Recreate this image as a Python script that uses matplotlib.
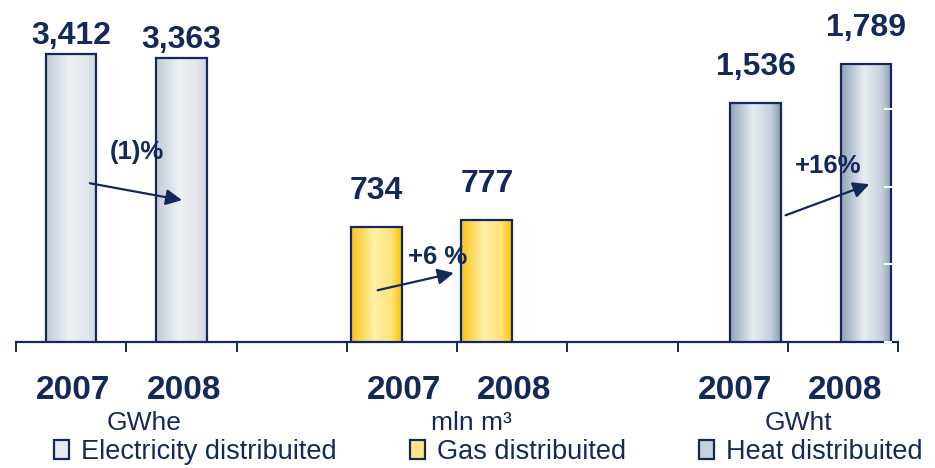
import numpy as np
import matplotlib.pyplot as plt
from matplotlib.patches import Patch
from matplotlib.colors import LinearSegmentedColormap

# data
years = ["2007", "2008"]
units = ["GWhe", "mln m³", "GWht"]
series = ["Electricity distribuited", "Gas distribuited", "Heat distribuited"]
electricity = [3412, 3363]
gas = [734, 777]
heat = [1536, 1789]
changes = ["(1)%", "+6 %", "+16%"]

plt.rcParams['font.family'] = ['Liberation Sans', 'DejaVu Sans']
NAVY = '#13295a'

# gradient colours (left edge -> highlight -> right edge)
grads = [
    ['#c3cbd7', '#edf0f4', '#e3e8ee', '#cdd4de'],
    ['#f9c21a', '#fff1a8', '#ffe27a', '#fbc200'],
    ['#92a3b9', '#e8ecf1', '#c6d0dc', '#879ab0'],
]
mids = ['#e6eaf0', '#ffe583', '#c7d1dc']

fig = plt.figure(figsize=(9.35, 4.68), dpi=100)
ax_e = fig.add_axes([16/935, 126/468, 882/935, 342/468])
ax_g = ax_e.twinx()
ax_h = ax_e.twinx()
axes = [ax_e, ax_g, ax_h]
ylims = [4050, 2180, 2200]
values = [electricity, gas, heat]
bar_x = [0.50, 3.27, 6.71]       # first bar centre of each group
label_off = [13, 26, 26]         # value label offset above bar (pt)

# arrows: (start x, start y) -> (end x, end y) in group data coords, text pos
arrows = [((0.67, 1880), (1.505, 1680), (1.10, 2250)),
          ((3.28, 330), (3.97, 440), (3.82, 545)),
          ((6.98, 815), (7.74, 1015), (7.37, 1135))]

for i, ax in enumerate(axes):
    ax.set_xlim(0, 8)
    ax.set_ylim(0, ylims[i])
    ax.patch.set_visible(False)
    for s in ax.spines.values():
        s.set_visible(False)
    ax.set_yticks([])
    xs = [bar_x[i], bar_x[i] + 1]
    bars = ax.bar(xs, values[i], width=0.46, color=mids[i], edgecolor=NAVY,
                  linewidth=1.6, zorder=3)
    cmap = LinearSegmentedColormap.from_list('g%d' % i, list(zip([0, 0.45, 0.8, 1], grads[i])))
    grad = np.linspace(0, 1, 256).reshape(1, -1)
    for b in bars:
        x0, w, h = b.get_x(), b.get_width(), b.get_height()
        im = ax.imshow(grad, cmap=cmap, extent=(x0, x0 + w, 0, h), aspect='auto',
                       zorder=3.5, origin='lower')
        im.set_clip_path(b)
        b.set_facecolor('none')
        b.set_zorder(4)
        ax.annotate(f"{b.get_height():,}", (x0 + w/2, h), xytext=(0, label_off[i]),
                    textcoords='offset points', ha='center', va='center',
                    fontsize=23, fontweight='bold', color=NAVY, zorder=6)
    (sx, sy), (ex, ey), (tx, ty) = arrows[i]
    ax.annotate("", xy=(ex, ey), xytext=(sx, sy),
                arrowprops=dict(arrowstyle='-|>', color=NAVY, lw=1.6,
                                mutation_scale=24, shrinkA=0, shrinkB=0), zorder=7)
    ax.text(tx, ty, changes[i], ha='center', va='center', fontsize=18.5,
            fontweight='bold', color=NAVY, zorder=7)
    ax.set_xlim(0, 8)
    ax.set_ylim(0, ylims[i])

# bottom axis with ticks on the category boundaries
ax_e.spines['bottom'].set_visible(True)
ax_e.spines['bottom'].set_color(NAVY)
ax_e.spines['bottom'].set_linewidth(1.6)
ax_e.set_xticks(np.arange(0, 9))
ax_e.set_xticklabels([])
ax_e.tick_params(axis='x', direction='out', length=7.5, width=1.4, color=NAVY)
ax_g.tick_params(axis='x', length=0)
ax_h.tick_params(axis='x', length=0)

# faint white value ticks on the right (heat scale)
ax_h.set_yticks([0, 500, 1000, 1500])
ax_h.set_yticklabels([])
ax_h.spines['right'].set_position(('axes', 0.9935))
ax_h.tick_params(axis='y', direction='in', length=5.5, width=1.4, colors='white',
                 zorder=8)
ax_h.yaxis.set_zorder(8)

# year and unit labels
trans = ax_e.get_xaxis_transform()
for g in range(3):
    for k, yr in enumerate(years):
        ax_e.text(3*g + k + 0.52, -0.143, yr, transform=trans, ha='center',
                  va='center', fontsize=24, fontweight='bold', color=NAVY)
unit_x = [1.16, 4.13, 7.10]
for g in range(3):
    ax_e.text(unit_x[g], -0.237, units[g], transform=trans, ha='center',
              va='center', fontsize=19, color=NAVY)

handles = [Patch(facecolor=mids[i], edgecolor=NAVY, linewidth=1.6) for i in range(3)]
fig.legend(handles, series, ncol=3, loc='center left',
           bbox_to_anchor=(54/935, 16/468), frameon=False, borderpad=0,
           borderaxespad=0, handlelength=0.55, handleheight=0.75,
           handletextpad=0.45, columnspacing=2.7,
           prop={'size': 19.5}, labelcolor=NAVY)

fig.savefig('out.png', dpi=100)
